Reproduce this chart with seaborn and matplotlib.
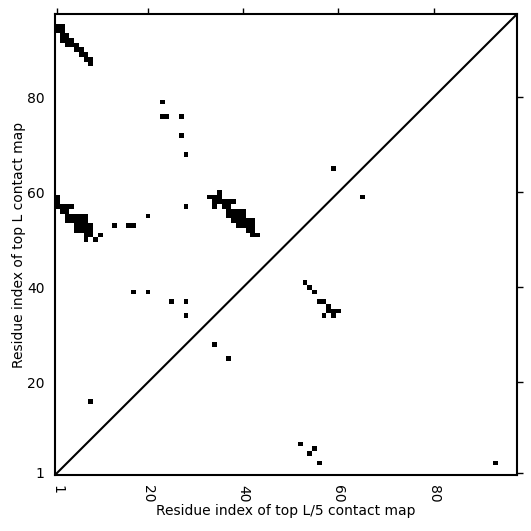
# %%
import matplotlib
matplotlib.use("Agg")
import matplotlib.pyplot as plt
import numpy as np
import seaborn as sns


# %%
L = 97
TICKS = [1, 20, 40, 60, 80]
XLABEL = "Residue index of top L/5 contact map"
YLABEL = "Residue index of top L contact map"

# top L contacts, drawn above the diagonal (x residue < y residue)
TOP_L_X = [1, 2, 1, 2, 2, 3, 2, 3, 4, 3, 4, 5, 5, 6, 6, 7, 7, 8, 8,
           23, 23, 24, 27, 27, 28, 28, 20, 13, 16, 17, 10, 17, 20, 25, 28, 28, 8, 59,
           1, 1, 1, 2, 3, 4, 2, 3, 3, 4, 5, 6, 7, 3, 4, 5, 6, 7, 5, 6, 7, 8,
           5, 6, 7, 8, 7, 8, 7, 9,
           35, 33, 34, 35, 34, 35, 36, 37, 38, 34, 36, 37, 37, 38, 39, 40,
           37, 38, 39, 40, 38, 39, 40, 41, 42, 39, 40, 41, 42, 41, 42, 42, 43]
TOP_L_Y = [95, 95, 94, 94, 93, 93, 92, 92, 92, 91, 91, 91, 90, 90, 89, 89, 88, 88, 87,
           79, 76, 76, 76, 72, 68, 57, 55, 53, 53, 53, 51, 39, 39, 37, 37, 34, 16, 65,
           59, 58, 57, 57, 57, 57, 56, 56, 55, 55, 55, 55, 55, 54, 54, 54, 54, 54, 53, 53, 53, 53,
           52, 52, 52, 52, 51, 51, 50, 50,
           60, 59, 59, 59, 58, 58, 58, 58, 58, 57, 57, 57, 56, 56, 56, 56,
           55, 55, 55, 55, 54, 54, 54, 54, 54, 53, 53, 53, 53, 52, 52, 51, 51]

# top L/5 contacts, drawn below the diagonal (x residue > y residue)
TOP_L5_X = [52, 55, 54, 56, 93, 34, 37, 65, 53, 54, 55, 56, 57, 58, 58, 59, 60, 57, 59]
TOP_L5_Y = [7, 6, 5, 3, 3, 28, 25, 59, 41, 40, 39, 37, 37, 36, 35, 35, 35, 34, 34]


# %%
def main():
    contact = np.zeros((L, L))
    for x, y in zip(TOP_L_X + TOP_L5_X, TOP_L_Y + TOP_L5_Y):
        contact[y - 1, x - 1] = 1

    sns.set_style("white")
    plt.rcParams["font.family"] = ["DejaVu Sans"]
    plt.rcParams["text.color"] = "black"
    plt.rcParams["axes.labelcolor"] = "black"
    plt.rcParams["xtick.color"] = "black"
    plt.rcParams["ytick.color"] = "black"

    fig = plt.figure(figsize=(5.31, 5.31), dpi=100)
    ax = fig.add_axes([0.1036, 0.1055, 0.870, 0.868])

    sns.heatmap(contact, cmap=["white", "black"], cbar=False, ax=ax,
                xticklabels=False, yticklabels=False)
    ax.plot([0, L], [0, L], color="black", lw=1.5)

    ax.set_xlim(0, L)
    ax.set_ylim(0, L)
    ticks = [t - 0.5 for t in TICKS]
    ax.set_xticks(ticks)
    ax.set_xticklabels([str(t) for t in TICKS], rotation=-90, fontsize=10,
                       color="black")
    ax.set_yticks(ticks)
    ax.set_yticklabels([str(t) for t in TICKS], rotation=0, fontsize=10,
                       color="black")
    ax.set_xlabel(XLABEL, fontsize=10, color="black", labelpad=1)
    ax.set_ylabel(YLABEL, fontsize=10, color="black", labelpad=1)

    for spine in ax.spines.values():
        spine.set_visible(True)
        spine.set_color("black")
        spine.set_linewidth(1.5)
    ax.tick_params(top=True, right=True, direction="out", length=4, width=1,
                   color="black", labeltop=False, labelright=False)

    fig.savefig("out.png", dpi=100)
    plt.close(fig)


# %%
if __name__ == "__main__":
    main()
